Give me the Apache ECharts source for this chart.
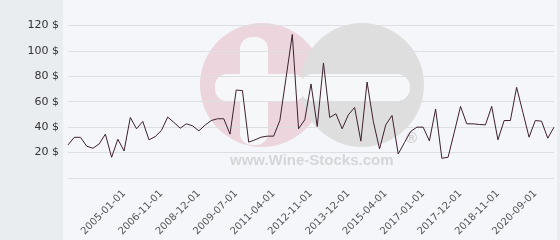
<!DOCTYPE html>
<html>
<head>
<meta charset="utf-8">
<script src="https://cdn.jsdelivr.net/npm/echarts@6/dist/echarts.min.js"></script>
<style>
html,body{margin:0;padding:0;background:#e9edf0;}
#chart{width:560px;height:240px;}
</style>
</head>
<body>
<div id="chart"></div>
<script>
const categories = [
  '2002-11-01','2003-02-01','2003-05-01','2003-08-01','2003-11-01','2004-02-01','2004-05-01','2004-07-01','2004-10-01',
  '2005-01-01','2005-04-01','2005-07-01','2005-11-01','2006-03-01','2006-07-01',
  '2006-11-01','2007-03-01','2007-07-01','2007-11-01','2008-04-01','2008-08-01',
  '2008-12-01','2009-01-01','2009-02-01','2009-03-01','2009-04-01','2009-05-01',
  '2009-07-01','2009-10-01','2010-01-01','2010-04-01','2010-08-01','2010-12-01',
  '2011-04-01','2011-07-01','2011-10-01','2012-01-01','2012-04-01','2012-08-01',
  '2012-11-01','2013-01-01','2013-03-01','2013-05-01','2013-07-01','2013-09-01',
  '2013-12-01','2014-03-01','2014-06-01','2014-09-01','2014-11-01','2015-01-01',
  '2015-04-01','2015-07-01','2015-10-01','2016-01-01','2016-05-01','2016-09-01',
  '2017-01-01','2017-03-01','2017-05-01','2017-07-01','2017-09-01','2017-10-01',
  '2017-12-01','2018-02-01','2018-04-01','2018-06-01','2018-08-01','2018-09-01',
  '2018-11-01','2019-02-01','2019-05-01','2019-08-01','2019-11-01','2020-02-01',
  '2020-09-01','2020-12-01','2021-03-01','2021-06-01'
];
const prices = [
  26, 32, 32, 25, 23.4, 26.8, 34.5, 16.3, 30.5,
  21.3, 47.6, 38.7, 44.5, 30, 32.6,
  37.4, 47.9, 43.7, 39.2, 42.6, 41,
  37.1, 41.6, 45.2, 46.6, 46.6, 34.5,
  69.2, 68.7, 28.2, 30, 32.1, 32.9,
  32.9, 45.2, 79, 112.9, 38.7, 45.8,
  74, 40.5, 90.5, 47.6, 50.5, 38.7,
  49.7, 55.5, 29, 75.5, 44.5, 22.9,
  41.8, 49.2, 18.9, 27.9, 36.6, 40,
  40, 29.2, 54.2, 15.5, 16.3, 36,
  56.3, 42.6, 42.6, 42.1, 41.8, 56.3,
  30, 45.2, 45.2, 71.3, 51.7, 32.1,
  45.2, 44.7, 31.3, 40
];
const yTicks = [0, 20, 40, 60, 80, 100, 120, 140];

const chart = echarts.init(document.getElementById('chart'), null, {renderer: 'canvas'});
chart.setOption({
  animation: false,
  backgroundColor: '#e9edf0',
  graphic: [
    {type: 'rect', z: -10, shape: {x: 63, y: 0, width: 494, height: 240}, style: {fill: '#f4f6f9'}},
    {type: 'circle', z: -9, shape: {cx: 262, cy: 85, r: 62}, style: {fill: '#ecd5dc'}},
    {type: 'circle', z: -9, shape: {cx: 362, cy: 85, r: 62}, style: {fill: '#dedede'}},
    {type: 'rect', z: -8, shape: {x: 240, y: 37, width: 28, height: 108, r: 12}, style: {fill: '#f6f7f9'}},
    {type: 'rect', z: -8, shape: {x: 215, y: 74, width: 90, height: 27, r: 12}, style: {fill: '#f6f7f9'}},
    {type: 'rect', z: -8, shape: {x: 300, y: 74, width: 110, height: 27, r: 13}, style: {fill: '#f6f7f9'}},
    {type: 'text', z: -7, x: 230, y: 153, style: {text: 'www.Wine-Stocks.com', font: 'bold 15px "Liberation Sans", Arial, sans-serif', fill: '#d6d6d8'}},
    {type: 'text', z: -7, x: 406, y: 131, style: {text: '®', font: 'bold 15px "Liberation Sans", Arial, sans-serif', fill: '#d0d0d2'}}
  ],
  grid: {left: 68, right: 6, top: 0, height: 178, containLabel: false},
  xAxis: {
    type: 'category',
    data: categories,
    boundaryGap: false,
    axisLine: {show: false},
    axisTick: {show: false},
    axisLabel: {
      rotate: 45,
      interval: function (i) { return i >= 9 && i % 6 === 3; },
      fontSize: 10,
      color: '#555',
      fontFamily: 'DejaVu Sans',
      margin: 14
    },
    splitLine: {show: false}
  },
  yAxis: {
    type: 'value',
    min: yTicks[0],
    max: yTicks[yTicks.length - 1],
    interval: 20,
    axisLine: {show: false},
    axisTick: {show: false},
    axisLabel: {
      formatter: function (v) { return (v === 0 || v === 140) ? '' : v + ' $'; },
      fontSize: 11,
      color: '#333',
      fontFamily: 'DejaVu Sans',
      margin: 9
    },
    splitLine: {
      show: true,
      lineStyle: {
        color: ['#dedfe1','#dedfe1','#dedfe1','#dedfe1','#dedfe1','#dedfe1','#dedfe1','rgba(0,0,0,0)'],
        width: 1
      }
    }
  },
  series: [{
    type: 'line',
    data: prices,
    symbol: 'none',
    lineStyle: {color: '#3d2130', width: 1}
  }]
});
</script>
</body>
</html>
